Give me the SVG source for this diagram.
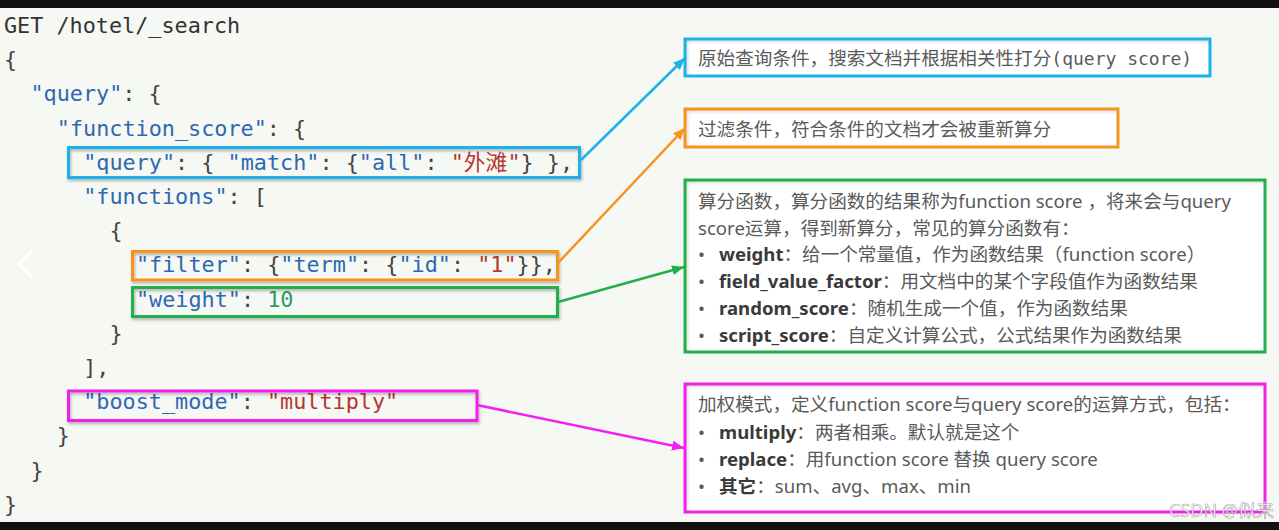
<svg xmlns="http://www.w3.org/2000/svg" width="1279" height="530" viewBox="0 0 1279 530">
<style>
.code{font-family:"DejaVu Sans Mono","Noto Sans CJK SC",monospace;font-size:21.8px;white-space:pre;fill:#444}
.k{fill:#2f68b0}.s{fill:#b5362f}.n{fill:#2e9a66}.p{fill:#444}.g{fill:#333}
.note{font-family:"Noto Sans","Noto Sans CJK SC",sans-serif;font-size:18.6px;fill:#5a5a5a;white-space:pre}
.b{font-weight:bold;fill:#3a3a3a}
.mono{font-family:"DejaVu Sans Mono",monospace;font-size:18px}
.hl{fill:none;stroke-width:3}
.card{fill:#fff}
.edge{fill:none;stroke-width:2.5}
</style>
<defs>
<filter id="drop" x="-5%" y="-20%" width="110%" height="150%">
<feDropShadow dx="1" dy="2" stdDeviation="1.5" flood-color="#000" flood-opacity="0.3"/>
</filter>
<filter id="inset" x="-2%" y="-10%" width="104%" height="120%">
<feFlood flood-color="#000" flood-opacity="0.45" result="f"/>
<feComposite in="f" in2="SourceAlpha" operator="out" result="o"/>
<feOffset in="o" dx="2" dy="2" result="oo"/>
<feGaussianBlur in="oo" stdDeviation="2.2" result="bl"/>
<feComposite in="bl" in2="SourceAlpha" operator="in" result="sh"/>
<feMerge><feMergeNode in="SourceGraphic"/><feMergeNode in="sh"/></feMerge>
</filter>
<marker id="aBlue" markerUnits="userSpaceOnUse" markerWidth="12" markerHeight="10" refX="12" refY="5" orient="auto"><path d="M0,0 L12,5 L0,10 z" fill="#1fb1ea"/></marker>
<marker id="aOrange" markerUnits="userSpaceOnUse" markerWidth="12" markerHeight="10" refX="12" refY="5" orient="auto"><path d="M0,0 L12,5 L0,10 z" fill="#f7941d"/></marker>
<marker id="aGreen" markerUnits="userSpaceOnUse" markerWidth="12" markerHeight="10" refX="12" refY="5" orient="auto"><path d="M0,0 L12,5 L0,10 z" fill="#22b04b"/></marker>
<marker id="aPink" markerUnits="userSpaceOnUse" markerWidth="12" markerHeight="10" refX="12" refY="5" orient="auto"><path d="M0,0 L12,5 L0,10 z" fill="#f51ef0"/></marker>
</defs>

<rect x="0" y="0" width="1279" height="530" fill="#f6f8f4"/>
<rect x="0" y="0" width="1279" height="8" fill="#111"/>
<rect x="0" y="522" width="1279" height="8" fill="#111"/>
<polyline points="33,250 19,264 33,278" fill="none" stroke="#fff" stroke-width="2.2" opacity="0.95"/>

<g id="code">
<text class="code" x="4" y="33"><tspan class="g">GET /hotel/_search</tspan></text>
<text class="code" x="4" y="67.2">{</text>
<text class="code" x="30.4" y="101.4"><tspan class="k">"query"</tspan><tspan class="p">: {</tspan></text>
<text class="code" x="56.8" y="135.6"><tspan class="k">"function_score"</tspan><tspan class="p">: {</tspan></text>
<text class="code" x="83.2" y="169.8"><tspan class="k">"query"</tspan><tspan class="p">: { </tspan><tspan class="k">"match"</tspan><tspan class="p">: {</tspan><tspan class="k">"all"</tspan><tspan class="p">: </tspan><tspan class="s">"外滩"</tspan><tspan class="p">} },</tspan></text>
<text class="code" x="83.2" y="204"><tspan class="k">"functions"</tspan><tspan class="p">: [</tspan></text>
<text class="code" x="109.6" y="238.2">{</text>
<text class="code" x="136" y="272.4"><tspan class="k">"filter"</tspan><tspan class="p">: {</tspan><tspan class="k">"term"</tspan><tspan class="p">: {</tspan><tspan class="k">"id"</tspan><tspan class="p">: </tspan><tspan class="s">"1"</tspan><tspan class="p">}},</tspan></text>
<text class="code" x="136" y="306.6"><tspan class="k">"weight"</tspan><tspan class="p">: </tspan><tspan class="n">10</tspan></text>
<text class="code" x="109.6" y="340.8">}</text>
<text class="code" x="83.2" y="375">],</text>
<text class="code" x="83.2" y="409.2"><tspan class="k">"boost_mode"</tspan><tspan class="p">: </tspan><tspan class="s">"multiply"</tspan></text>
<text class="code" x="56.8" y="443.4">}</text>
<text class="code" x="30.4" y="477.6">}</text>
<text class="code" x="4" y="511.8">}</text>
</g>

<g id="hl-query"><rect class="hl" x="68.5" y="147.5" width="511" height="30" stroke="#1fb1ea" filter="url(#drop)"/></g>
<g id="hl-filter"><rect class="hl" x="132.5" y="251.5" width="425" height="28.5" stroke="#f7941d" filter="url(#drop)"/></g>
<g id="hl-weight"><rect class="hl" x="132.5" y="287.5" width="425" height="29" stroke="#22b04b" filter="url(#drop)"/></g>
<g id="hl-boost"><rect class="hl" x="68.5" y="391" width="408.5" height="29.5" stroke="#f51ef0" filter="url(#drop)"/></g>

<g id="connectors">
<line class="edge" x1="581" y1="160" x2="685" y2="58" stroke="#1fb1ea" marker-end="url(#aBlue)"/>
<line class="edge" x1="558" y1="263" x2="685" y2="128" stroke="#f7941d" marker-end="url(#aOrange)"/>
<line class="edge" x1="558" y1="302" x2="684" y2="267" stroke="#22b04b" marker-end="url(#aGreen)"/>
<line class="edge" x1="477" y1="405" x2="684" y2="448" stroke="#f51ef0" marker-end="url(#aPink)"/>
</g>

<g id="note-query">
<rect class="card" x="685" y="39" width="525" height="37" filter="url(#inset)"/>
<rect class="hl" x="685" y="39" width="525" height="37" stroke="#1fb1ea"/>
<text class="note" x="698" y="65">原始查询条件，搜索文档并根据相关性打分<tspan class="mono">(query score)</tspan></text>
</g>

<g id="note-filter">
<rect class="card" x="685" y="109" width="433" height="38" filter="url(#inset)"/>
<rect class="hl" x="685" y="109" width="433" height="38" stroke="#f7941d"/>
<text class="note" x="698" y="136">过滤条件，符合条件的文档才会被重新算分</text>
</g>

<g id="note-functions">
<rect class="card" x="685" y="180" width="580" height="172" filter="url(#inset)"/>
<rect class="hl" x="685" y="180" width="580" height="172" stroke="#22b04b"/>
<text class="note" x="698" y="208">算分函数，算分函数的结果称为function score ，将来会与query</text>
<text class="note" x="698" y="234.5">score运算，得到新算分，常见的算分函数有：</text>
<text class="note" x="698" y="261"><tspan>•</tspan><tspan x="719" class="b">weight</tspan><tspan>：给一个常量值，作为函数结果（function score）</tspan></text>
<text class="note" x="698" y="288"><tspan>•</tspan><tspan x="719" class="b">field_value_factor</tspan><tspan>：用文档中的某个字段值作为函数结果</tspan></text>
<text class="note" x="698" y="314.5"><tspan>•</tspan><tspan x="719" class="b">random_score</tspan><tspan>：随机生成一个值，作为函数结果</tspan></text>
<text class="note" x="698" y="341.5"><tspan>•</tspan><tspan x="719" class="b">script_score</tspan><tspan>：自定义计算公式，公式结果作为函数结果</tspan></text>
</g>

<g id="note-boost">
<rect class="card" x="685" y="384" width="580" height="128" filter="url(#inset)"/>
<rect class="hl" x="685" y="384" width="580" height="128" stroke="#f51ef0"/>
<text class="note" x="698" y="411">加权模式，定义function score与query score的运算方式，包括：</text>
<text class="note" x="698" y="439"><tspan>•</tspan><tspan x="719" class="b">multiply</tspan><tspan>：两者相乘。默认就是这个</tspan></text>
<text class="note" x="698" y="466"><tspan>•</tspan><tspan x="719" class="b">replace</tspan><tspan>：用function score 替换 query score</tspan></text>
<text class="note" x="698" y="493"><tspan>•</tspan><tspan x="719" class="b">其它</tspan><tspan>：sum、avg、max、min</tspan></text>
</g>

<text x="1274" y="517" text-anchor="end" font-family="Noto Sans, Noto Sans CJK SC, sans-serif" font-size="18" fill="#fff" stroke="#9a9a9a" stroke-width="0.6" opacity="0.85">CSDN @似来</text>
</svg>
